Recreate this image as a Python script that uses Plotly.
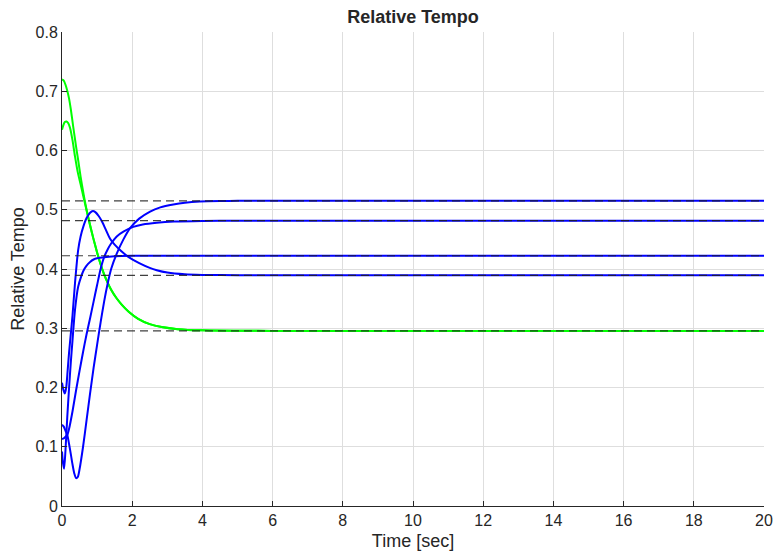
import plotly.graph_objects as go

# ---- data ----
t_g1 = [0, 0.05, 0.1, 0.15, 0.2, 0.25, 0.32, 0.4, 0.46, 0.53, 0.61, 0.7, 0.8, 0.9, 1.0, 1.1, 1.2, 1.3, 1.4, 1.55, 1.7, 1.9, 2.17, 2.5, 2.84, 3.3, 4.0, 5.0, 6.0, 10.0, 20.0]
v_g1 = [0.720, 0.718, 0.711, 0.701, 0.688, 0.670, 0.640, 0.607, 0.584, 0.556, 0.528, 0.500, 0.474, 0.450, 0.428, 0.408, 0.391, 0.377, 0.365, 0.351, 0.340, 0.328, 0.316, 0.307, 0.302, 0.2985, 0.2965, 0.2958, 0.2955, 0.2955, 0.2955]

t_g2 = [0, 0.04, 0.08, 0.13, 0.18, 0.23, 0.3, 0.37, 0.45, 0.53, 0.61, 0.7, 0.8, 0.9, 1.0, 1.1, 1.2, 1.3, 1.4, 1.55, 1.7, 1.9, 2.17, 2.5, 2.84, 3.3, 4.0, 5.0, 6.0, 10.0, 20.0]
v_g2 = [0.635, 0.643, 0.648, 0.649, 0.646, 0.638, 0.617, 0.590, 0.563, 0.543, 0.522, 0.499, 0.474, 0.450, 0.428, 0.408, 0.391, 0.377, 0.365, 0.351, 0.340, 0.328, 0.316, 0.307, 0.302, 0.2985, 0.2965, 0.2958, 0.2955, 0.2955, 0.2955]

# overshoot curve -> 0.389
t_b1 = [0, 0.04, 0.08, 0.12, 0.16, 0.2, 0.25, 0.3, 0.37, 0.46, 0.53, 0.61, 0.7, 0.8, 0.88, 0.95, 1.05, 1.15, 1.25, 1.37, 1.5, 1.6, 1.75, 1.9, 2.2, 2.5, 2.7, 3.0, 3.5, 4.0, 5.0, 6.0, 10.0, 20.0]
v_b1 = [0.208, 0.196, 0.190, 0.200, 0.228, 0.258, 0.290, 0.322, 0.376, 0.432, 0.455, 0.472, 0.486, 0.495, 0.498, 0.496, 0.489, 0.479, 0.466, 0.451, 0.441, 0.435, 0.427, 0.420, 0.410, 0.402, 0.398, 0.394, 0.391, 0.390, 0.3895, 0.3893, 0.3893, 0.3893]

# fast curve -> 0.4224
t_b2 = [0, 0.03, 0.06, 0.1, 0.15, 0.2, 0.25, 0.3, 0.37, 0.46, 0.55, 0.61, 0.69, 0.8, 0.9, 1.0, 1.2, 1.5, 2.0, 3.0, 5.0, 10.0, 20.0]
v_b2 = [0.092, 0.072, 0.063, 0.095, 0.150, 0.198, 0.242, 0.280, 0.331, 0.370, 0.388, 0.397, 0.405, 0.412, 0.416, 0.418, 0.420, 0.4215, 0.4222, 0.4224, 0.4224, 0.4224, 0.4224]

# gradual curve -> 0.4816
t_b3 = [0, 0.05, 0.1, 0.15, 0.2, 0.3, 0.4, 0.5, 0.6, 0.7, 0.8, 0.9, 1.0, 1.1, 1.2, 1.3, 1.4, 1.56, 1.75, 2.03, 2.3, 2.7, 3.2, 4.0, 5.0, 6.0, 10.0, 20.0]
v_b3 = [0.113, 0.114, 0.117, 0.120, 0.130, 0.160, 0.195, 0.228, 0.260, 0.290, 0.317, 0.345, 0.373, 0.400, 0.420, 0.433, 0.443, 0.455, 0.463, 0.471, 0.475, 0.478, 0.480, 0.4812, 0.4816, 0.4816, 0.4816, 0.4816]

# dipping curve -> 0.515
t_b4 = [0, 0.05, 0.1, 0.15, 0.2, 0.25, 0.3, 0.35, 0.4, 0.45, 0.5, 0.6, 0.7, 0.8, 0.9, 1.0, 1.1, 1.2, 1.3, 1.4, 1.56, 1.75, 1.94, 2.2, 2.51, 2.8, 3.17, 3.5, 3.93, 4.5, 5.0, 6.0, 10.0, 20.0]
v_b4 = [0.137, 0.134, 0.127, 0.120, 0.105, 0.088, 0.070, 0.055, 0.047, 0.049, 0.062, 0.100, 0.145, 0.190, 0.233, 0.272, 0.310, 0.345, 0.375, 0.400, 0.426, 0.450, 0.469, 0.485, 0.497, 0.504, 0.509, 0.512, 0.514, 0.5148, 0.515, 0.515, 0.515, 0.515]

final_values = [0.515, 0.4816, 0.4224, 0.3893, 0.2955]
x_ticks = [0, 2, 4, 6, 8, 10, 12, 14, 16, 18, 20]
y_ticks = [0, 0.1, 0.2, 0.3, 0.4, 0.5, 0.6, 0.7, 0.8]
y_tick_text = ["0", "0.1", "0.2", "0.3", "0.4", "0.5", "0.6", "0.7", "0.8"]

fig = go.Figure()

curves = [
    (t_g1, v_g1, "#00ff00"),
    (t_g2, v_g2, "#00ff00"),
    (t_b1, v_b1, "#0000ff"),
    (t_b2, v_b2, "#0000ff"),
    (t_b3, v_b3, "#0000ff"),
    (t_b4, v_b4, "#0000ff"),
]
for tx, vy, col in curves:
    fig.add_trace(go.Scatter(x=tx, y=vy, mode="lines",
                             line=dict(color=col, width=2, shape="spline", smoothing=0.7),
                             showlegend=False, hoverinfo="skip"))

for fv in final_values:
    fig.add_trace(go.Scatter(x=[x_ticks[0], x_ticks[-1]], y=[fv, fv], mode="lines",
                             line=dict(color="rgba(30,30,30,0.85)", width=1.2, dash="8px,5px"),
                             showlegend=False, hoverinfo="skip"))

font_family = "Liberation Sans, Arial, Helvetica, sans-serif"
fig.update_layout(
    width=775, height=559,
    margin=dict(l=62, r=11, t=32, b=53, autoexpand=False),
    paper_bgcolor="white", plot_bgcolor="white",
    font=dict(family=font_family, color="#262626", size=16),
    title=dict(text="<b>Relative Tempo</b>", x=0.5, xanchor="center",
               xref="paper", yref="container", y=1 - 17 / 559, yanchor="middle",
               font=dict(size=18, color="#262626"), automargin=False),
    showlegend=False,
)
fig.update_xaxes(
    range=[0, 20], tickvals=x_ticks, ticktext=[str(v) for v in x_ticks],
    showgrid=True, gridcolor="#dedede", gridwidth=1,
    showline=True, linecolor="#262626", linewidth=1,
    ticks="inside", ticklen=5, tickcolor="#262626",
    zeroline=False, tickfont=dict(size=16), automargin=False,
    title=dict(text="Time [sec]", font=dict(size=18), standoff=6),
)
fig.update_yaxes(
    range=[0, 0.8], tickvals=y_ticks, ticktext=y_tick_text,
    showgrid=True, gridcolor="#dedede", gridwidth=1,
    showline=True, linecolor="#262626", linewidth=1,
    ticks="inside", ticklen=5, tickcolor="#262626",
    zeroline=False, tickfont=dict(size=16), automargin=False,
    title=dict(text="Relative Tempo", font=dict(size=18), standoff=6),
)

fig.write_html("out.html",
               config={"displayModeBar": False},
               post_script="document.body.style.margin='0';document.body.style.overflow='hidden';")
